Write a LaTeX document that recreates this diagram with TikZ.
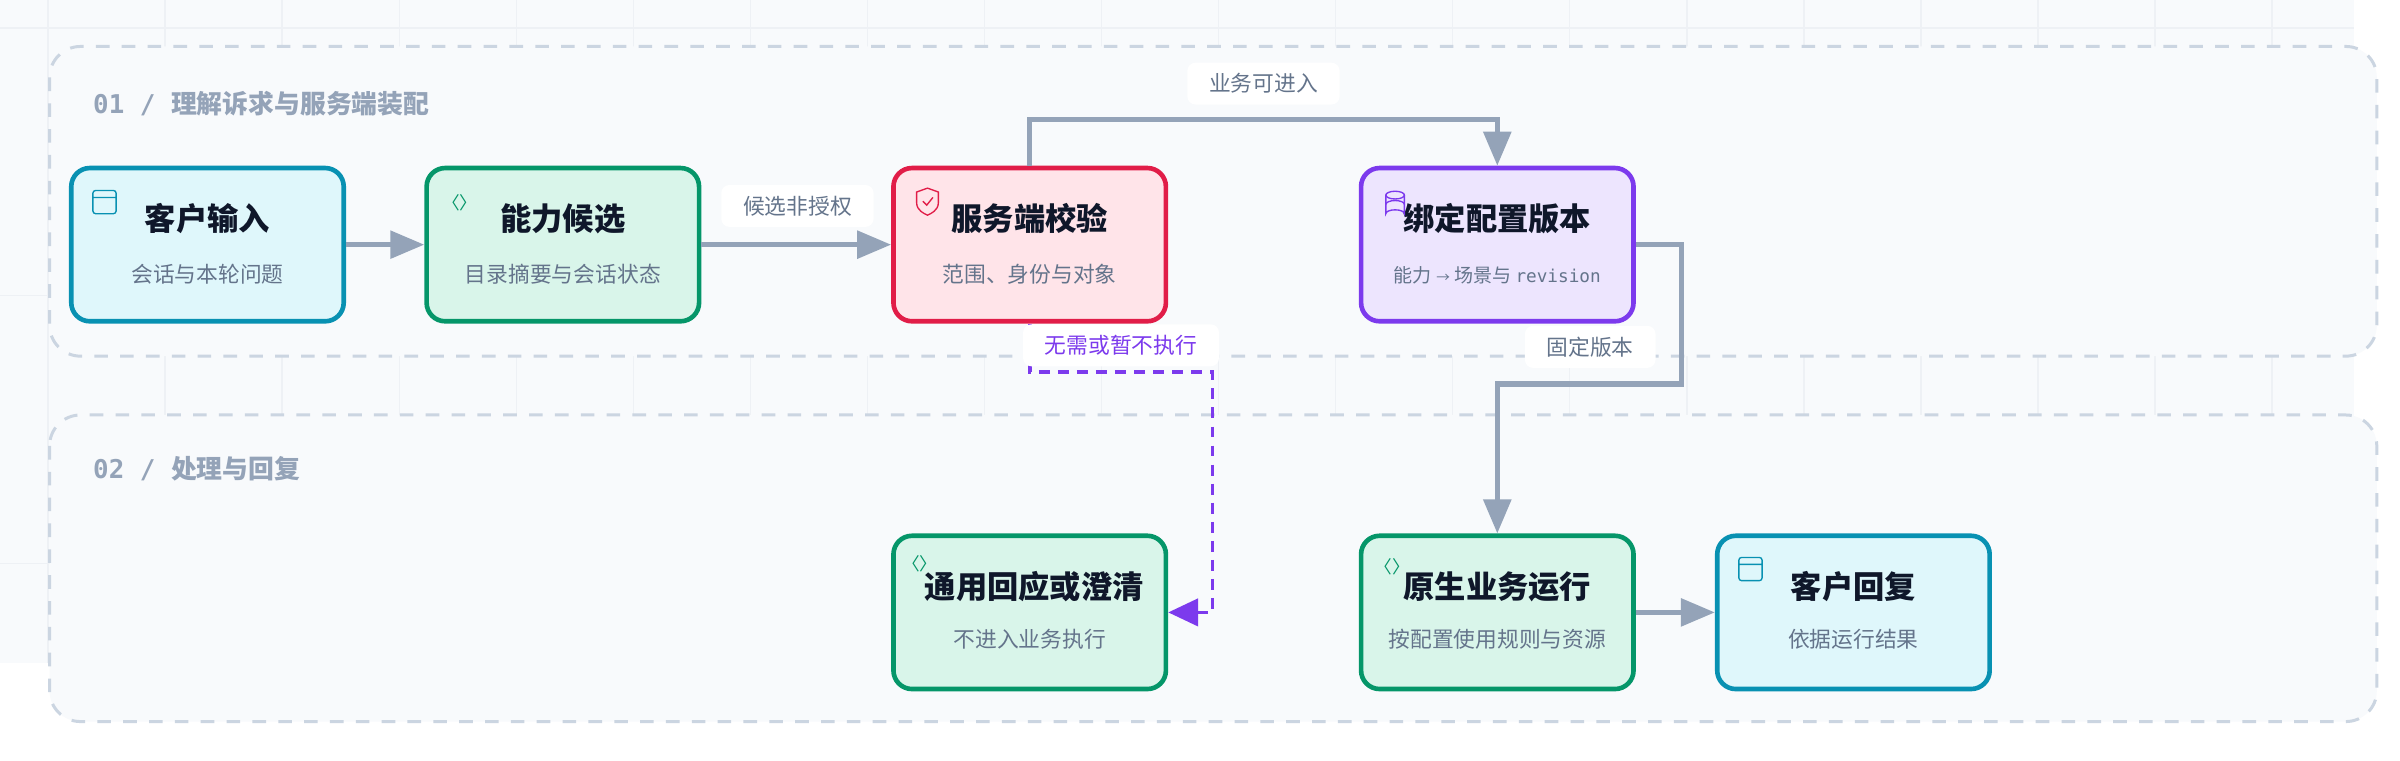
\documentclass[tikz,border=0pt]{standalone}
\usepackage{fontspec}
\setmainfont{Noto Sans CJK SC}
\newfontfamily\monof{DejaVu Sans Mono}
\usetikzlibrary{arrows.meta,positioning}
\definecolor{bgc}{HTML}{F8FAFC}
\definecolor{gridc}{HTML}{EEF1F5}
\definecolor{grpc}{HTML}{CBD5E1}
\definecolor{edgec}{HTML}{94A3B8}
\definecolor{cyanb}{HTML}{0891B2}\definecolor{cyanf}{HTML}{DFF7FB}
\definecolor{greenb}{HTML}{059669}\definecolor{greenf}{HTML}{D9F5EA}
\definecolor{redb}{HTML}{E11D48}\definecolor{redf}{HTML}{FFE4E9}
\definecolor{purpb}{HTML}{7C3AED}\definecolor{purpf}{HTML}{EDE5FE}
\definecolor{titc}{HTML}{0F172A}\definecolor{subc}{HTML}{64748B}
\tikzset{
 box/.style={draw=#1b,fill=#1f,line width=1.7pt,rounded corners=0.24cm,minimum width=3.52cm,minimum height=1.98cm,inner sep=0pt},
 ttl/.style={font=\bfseries\fontsize{11.5}{13}\selectfont,text=titc},
 sub/.style={font=\fontsize{8}{9}\selectfont,text=subc},
 grp/.style={draw=grpc,line width=1.1pt,dash pattern=on 5pt off 4.5pt,rounded corners=0.4cm,fill=bgc},
 grplbl/.style={font=\bfseries\fontsize{9.5}{11}\selectfont,text=edgec,anchor=west},
 edge/.style={draw=edgec,line width=1.9pt,-{Triangle[length=12.5pt,width=10pt]}},
 elbl/.style={fill=white,rounded corners=3pt,font=\fontsize{8}{9}\selectfont,text=subc,inner xsep=8pt,inner ysep=4pt},
 icn/.style={text=greenb,font=\fontsize{6.5}{7}\selectfont,inner sep=0pt},
}
\begin{document}
\begin{tikzpicture}[x=0.02cm,y=-0.02cm]
\useasboundingbox (0,0) rectangle (1550,491);
\fill[white] (0,0) rectangle (1550,491);
\fill[bgc] (0,0) rectangle (1520,428);
\foreach \x in {31,106.6,...,1520} \draw[gridc,line width=0.5pt] (\x,0) -- (\x,428);
\foreach \y in {18,191,364} \draw[gridc,line width=0.5pt] (0,\y) -- (1520,\y);
% groups
\draw[grp] (32,30) rectangle (1535,230);
\draw[grp] (32,268) rectangle (1535,466);
\node[grplbl] (g1) at (54,67) {{\monof 01 / }理解诉求与服务端装配};
\node[grplbl] (g2) at (54,303) {{\monof 02 / }处理与回复};
% nodes
\node[box=cyan] (a) at (134,158) {};
\node[box=green] (b) at (363.5,158) {};
\node[box=red] (c) at (665,158) {};
\node[box=purp] (d) at (967,158) {};
\node[box=green] (e) at (665,395.5) {};
\node[box=green] (f) at (967,395.5) {};
\node[box=cyan] (g) at (1197,395.5) {};
\node[ttl] (at) at (134,141) {客户输入};
\node[sub] (as) at (134,177) {会话与本轮问题};
\node[ttl] (bt) at (363.5,141) {能力候选};
\node[sub] (bs) at (363.5,177) {目录摘要与会话状态};
\node[ttl] (ct) at (665,141) {服务端校验};
\node[sub] (cs) at (665,177) {范围、身份与对象};
\node[ttl] (dt) at (967,141) {绑定配置版本};
\node[sub] (ds) at (967,178) {\fontsize{7}{8}\selectfont 能力 {\fontsize{5}{6}\selectfont →} 场景与 {\monof\fontsize{6.5}{8}\selectfont revision}};
\node[ttl] (et) at (668,379) {通用回应或澄清};
\node[sub] (es) at (665,413) {不进入业务执行};
\node[ttl] (ft) at (967,379) {原生业务运行};
\node[sub] (fs) at (967,413) {按配置使用规则与资源};
\node[ttl] (gt) at (1197,379) {客户回复};
\node[sub] (gs) at (1197,413) {依据运行结果};
% icons
\draw[cyanb,line width=0.5pt,rounded corners=1pt] (60,123) rectangle (75,138) (60,127.5) -- (75,127.5);
\draw[cyanb,line width=0.5pt,rounded corners=1pt] (1123,360) rectangle (1138,375) (1123,364.5) -- (1138,364.5);
\node[icn] (ib) at (297,131) {〈〉};
\node[icn] (ie) at (594,364) {〈〉};
\node[icn] (if) at (899,366) {〈〉};
\draw[redb,line width=0.5pt] (592,124) -- (599,121.5) -- (606,124) -- (606,131) .. controls (606,136) and (601,138) .. (599,139) .. controls (597,138) and (592,136) .. (592,131) -- cycle;
\draw[redb,line width=0.5pt] (596,130) -- (598.5,132.5) -- (602.5,127.5);
\draw[purpb,line width=0.5pt] (901,126) ellipse (6 and 2.5);
\draw[purpb,line width=0.5pt] (895,126) -- (895,138) arc[start angle=180,end angle=360,x radius=6,y radius=2.5] -- (907,126);
\draw[purpb,line width=0.5pt] (895,132) arc[start angle=180,end angle=360,x radius=6,y radius=2.5];
% edges
\draw[edge] (a) -- (b);
\draw[edge] (b) -- (c);
\node[elbl] (l1) at (515,133) {候选非授权};
\draw[edge] (c.north) -- (665,77) -- (967,77) -- (d.north);
\node[elbl] (l2) at (816,54) {业务可进入};
\draw[edge] (d.east) -- (1086,158) -- (1086,248) -- (967,248) -- (f.north);
\node[elbl] (l3) at (1027,224) {固定版本};
\draw[draw=purpb,line width=1.4pt,dash pattern=on 4pt off 3pt,-{Triangle[length=11pt,width=10pt]}] (c.south) -- (665,240) -- (783,240) -- (783,395.5) -- (e.east);
\node[elbl,text=purpb] (l4) at (724,223) {无需或暂不执行};
\draw[edge] (f) -- (g);
\end{tikzpicture}
\end{document}
